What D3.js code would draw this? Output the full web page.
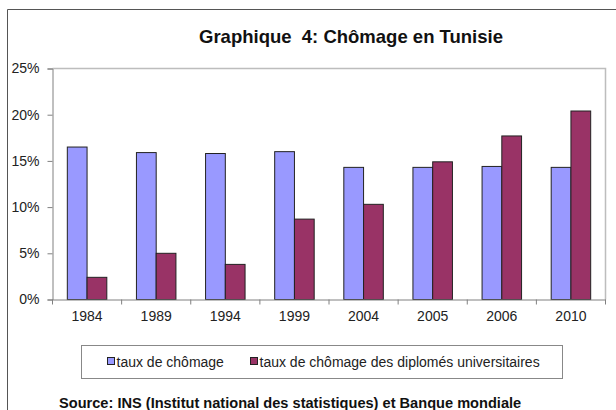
<!DOCTYPE html>
<html><head><meta charset="utf-8">
<script src="https://cdn.jsdelivr.net/npm/d3@7"></script>
<style>body{margin:0;background:#fff}svg{display:block;font-family:"Liberation Sans",Arial,sans-serif}</style>
</head><body>
<script>
const categories = ["1984","1989","1994","1999","2004","2005","2006","2010"];
const tauxChomage = [16.5, 15.9, 15.8, 16.0, 14.3, 14.3, 14.4, 14.3];
const tauxDiplomes = [2.4, 5.0, 3.8, 8.7, 10.3, 14.9, 17.7, 20.4];
const seriesNames = ["taux de chômage", "taux de chômage des diplomés universitaires"];
const seriesColors = ["#9999FF", "#993366"];
const yTicks = [0, 5, 10, 15, 20, 25];

const W = 616, H = 410;
const svg = d3.select("body").append("svg").attr("width", W).attr("height", H);

// outer frame (top & left visible)
svg.append("path").attr("d", "M7.5,420V9.5H620").attr("fill","none").attr("stroke","#555").attr("stroke-width",1);

svg.append("text").attr("x", 351).attr("y", 43).attr("text-anchor","middle")
  .attr("font-size", 18.5).attr("font-weight","bold").attr("fill","#111")
  .style("white-space","pre").attr("xml:space","preserve")
  .text("Graphique  4: Chômage en Tunisie");

const L = 52.5, R = 605.5, T = 68.5, B = 299.5;
const x0 = d3.scaleBand().domain(categories).range([L, R]).padding(0);
const x1 = d3.scaleBand().domain([0,1]).range([0, x0.bandwidth()]).paddingInner(0).paddingOuter(0.75);
const y = d3.scaleLinear().domain([0, 25]).range([B, T]);

// plot border (top, right)
svg.append("path").attr("d", `M${L},${T}H${R}V${B}`).attr("fill","none").attr("stroke","#bdbdbd").attr("stroke-width",1.5);

const data = categories.map((c,i)=>({c, v:[tauxChomage[i], tauxDiplomes[i]]}));
const g = svg.append("g");
g.selectAll("g.cat").data(data).join("g").attr("class","cat")
  .attr("transform", d=>`translate(${x0(d.c)},0)`)
  .selectAll("rect").data(d=>d.v.map((v,k)=>({v,k}))).join("rect")
  .attr("x", d=>x1(d.k)).attr("width", x1.bandwidth())
  .attr("y", d=>y(d.v)).attr("height", d=>y(0)-y(d.v))
  .attr("fill", d=>seriesColors[d.k]).attr("stroke","#222").attr("stroke-width",1);

// y axis
const yAxis = d3.axisLeft(y).tickValues(yTicks).tickFormat(d=>d+"%").tickSize(5).tickPadding(8);
const ya = svg.append("g").attr("transform", `translate(${L},0)`).call(yAxis);
ya.select(".domain").attr("stroke","#808080");
ya.selectAll(".tick line").attr("stroke","#808080");
ya.selectAll("text").attr("font-size",14).attr("fill","#222").attr("font-family","Liberation Sans, Arial, sans-serif");

// x axis
const xa = svg.append("g").attr("transform", `translate(0,${B})`).call(d3.axisBottom(x0).tickSize(0).tickPadding(12));
xa.select(".domain").attr("stroke","#808080");
xa.selectAll("text").attr("font-size",14).attr("fill","#222").attr("font-family","Liberation Sans, Arial, sans-serif");
// boundary tick marks
const bounds = categories.map(c=>x0(c)).concat([x0(categories[categories.length-1])+x0.bandwidth()]);
svg.append("g").selectAll("line").data(bounds).join("line")
  .attr("x1", d=>d).attr("x2", d=>d).attr("y1", B).attr("y2", B+5)
  .attr("stroke","#808080");

// legend
svg.append("rect").attr("x",81.5).attr("y",345.5).attr("width",481).attr("height",33)
  .attr("fill","#fff").attr("stroke","#888");
const legX = [107.5, 250.5];
seriesNames.forEach((n,k)=>{
  svg.append("rect").attr("x",legX[k]).attr("y",357.5).attr("width",7).attr("height",7)
    .attr("fill",seriesColors[k]).attr("stroke","#222");
  svg.append("text").attr("x",legX[k]+9).attr("y",367).attr("font-size",14).attr("fill","#222").text(n);
});

svg.append("text").attr("x",59).attr("y",408).attr("font-size",14.6).attr("font-weight","bold").attr("fill","#111")
  .text("Source: INS (Institut national des statistiques) et Banque mondiale");
</script>
</body></html>
